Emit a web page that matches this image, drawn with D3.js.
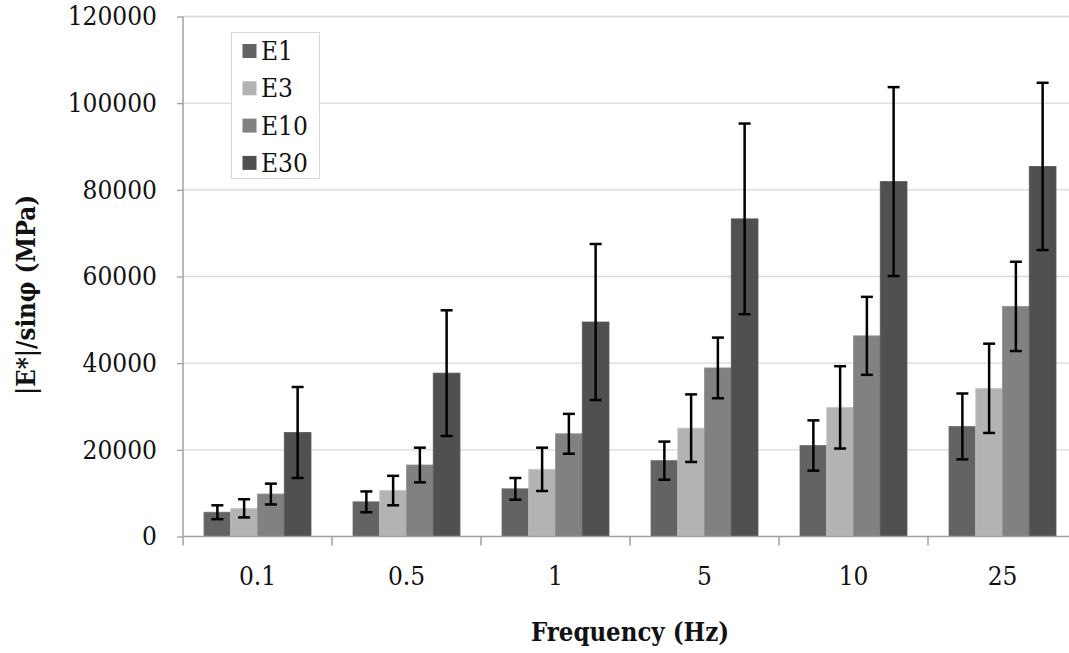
<!DOCTYPE html>
<html>
<head>
<meta charset="utf-8">
<script src="https://cdn.jsdelivr.net/npm/d3@7"></script>
<style>
  html, body { margin: 0; padding: 0; background: #fff; }
  svg { display: block; }
</style>
</head>
<body>
<svg id="chart" width="1069" height="653"></svg>
<script>
// ---- data ----
const categories = ["0.1", "0.5", "1", "5", "10", "25"];
const seriesNames = ["E1", "E3", "E10", "E30"];
const E1  = [5600, 8000, 11000, 17500, 21000, 25400];
const E3  = [6500, 10600, 15500, 25000, 29800, 34200];
const E10 = [9800, 16500, 23700, 38900, 46300, 53100];
const E30 = [24000, 37700, 49500, 73300, 81900, 85400];
const E1err  = [1600, 2400, 2500, 4400, 5800, 7600];
const E3err  = [2100, 3400, 5000, 7800, 9500, 10300];
const E10err = [2400, 4000, 4600, 7000, 9000, 10300];
const E30err = [10500, 14500, 18000, 22000, 21800, 19300];
const yTicks = [0, 20000, 40000, 60000, 80000, 100000, 120000];

const seriesValues = [E1, E3, E10, E30];
const seriesErrors = [E1err, E3err, E10err, E30err];
const colors = ["#636363", "#b3b3b3", "#818181", "#505050"];

// ---- layout ----
const svg = d3.select("#chart");
const FONT = "'DejaVu Serif Condensed', 'DejaVu Serif', serif";
svg.attr("font-family", FONT).attr("font-stretch", "condensed");
const mLeft = 183, mTop = 16.5, mBottom = 536.5;
const catStep = 149;
const mRight = mLeft + catStep * categories.length;

const x0 = d3.scaleBand().domain(categories).range([mLeft, mRight]).padding(0);
const x1 = d3.scaleBand().domain(seriesNames).range([21, catStep - 21]).padding(0);
const y = d3.scaleLinear().domain([0, 120000]).range([mBottom, mTop]);

svg.append("g").selectAll("line").data(yTicks.filter(d => d > 0)).join("line")
  .attr("x1", mLeft).attr("x2", mRight)
  .attr("y1", d => y(d)).attr("y2", d => y(d))
  .attr("stroke", "#d9d9d9").attr("stroke-width", 1.3);

const groups = svg.append("g").selectAll("g").data(categories).join("g")
  .attr("transform", d => `translate(${x0(d)},0)`);

groups.each(function(cat, ci) {
  const g = d3.select(this);
  seriesNames.forEach((s, si) => {
    const v = seriesValues[si][ci];
    g.append("rect")
      .attr("x", x1(s)).attr("width", x1.bandwidth())
      .attr("y", y(v)).attr("height", y(0) - y(v))
      .attr("fill", colors[si])
      .attr("stroke", d3.color(colors[si]).brighter(0.3))
      .attr("stroke-width", 0.8);
  });
});

groups.each(function(cat, ci) {
  const g = d3.select(this);
  seriesNames.forEach((s, si) => {
    const v = seriesValues[si][ci], e = seriesErrors[si][ci];
    const cx = x1(s) + x1.bandwidth() / 2;
    const hi = y(v + e), lo = y(v - e);
    g.append("line").attr("x1", cx).attr("x2", cx).attr("y1", hi).attr("y2", lo)
      .attr("stroke", "#000").attr("stroke-width", 2.5);
    [hi, lo].forEach(yy => {
      g.append("line").attr("x1", cx - 6).attr("x2", cx + 6).attr("y1", yy).attr("y2", yy)
        .attr("stroke", "#000").attr("stroke-width", 2.5);
    });
  });
});

const yAxis = d3.axisLeft(y).tickValues(yTicks).tickSize(6).tickPadding(20).tickFormat(d3.format("d"));
const yg = svg.append("g").attr("transform", `translate(${mLeft},0)`).call(yAxis)
  .attr("font-family", FONT);
yg.select(".domain").remove();
yg.selectAll(".tick line").attr("stroke", "#a0a0a0").attr("stroke-width", 1.3);
yg.selectAll(".tick text").attr("font-size", 26).attr("fill", "#111");
svg.append("line").attr("x1", mLeft).attr("x2", mLeft).attr("y1", mTop).attr("y2", mBottom + 9)
  .attr("stroke", "#a0a0a0").attr("stroke-width", 1.5);

const xg = svg.append("g").attr("transform", `translate(0,${mBottom})`)
  .call(d3.axisBottom(x0).tickSize(0).tickPadding(30)).attr("font-family", FONT);
xg.select(".domain").remove();
xg.selectAll(".tick text").attr("font-size", 26).attr("fill", "#111");
svg.append("line").attr("x1", mLeft).attr("x2", mRight).attr("y1", mBottom).attr("y2", mBottom)
  .attr("stroke", "#a0a0a0").attr("stroke-width", 1.5);
svg.append("g").selectAll("line").data(categories.slice(1)).join("line")
  .attr("x1", d => x0(d)).attr("x2", d => x0(d))
  .attr("y1", mBottom).attr("y2", mBottom + 9)
  .attr("stroke", "#a0a0a0").attr("stroke-width", 1.5);

svg.append("text").attr("x", 630).attr("y", 641).attr("text-anchor", "middle")
  .attr("font-size", 25.5).attr("font-weight", "bold").attr("fill", "#111")
  .text("Frequency (Hz)");
svg.append("text").attr("transform", "translate(35,295) rotate(-90)")
  .attr("text-anchor", "middle").attr("font-size", 25.5).attr("font-weight", "bold").attr("fill", "#111")
  .text("|E*|/sinφ (MPa)");

const lg = svg.append("g");
lg.append("rect").attr("x", 231.5).attr("y", 32.5).attr("width", 88).attr("height", 146)
  .attr("fill", "#fff").attr("stroke", "#d9d9d9").attr("stroke-width", 1);
seriesNames.forEach((s, i) => {
  const cy = 51 + i * 37.3;
  lg.append("rect").attr("x", 242.5).attr("y", cy - 7).attr("width", 14).attr("height", 14)
    .attr("fill", colors[i]);
  lg.append("text").attr("x", 261).attr("y", cy + 9).attr("font-size", 26).attr("fill", "#111")
    .text(s);
});
</script>
</body>
</html>
